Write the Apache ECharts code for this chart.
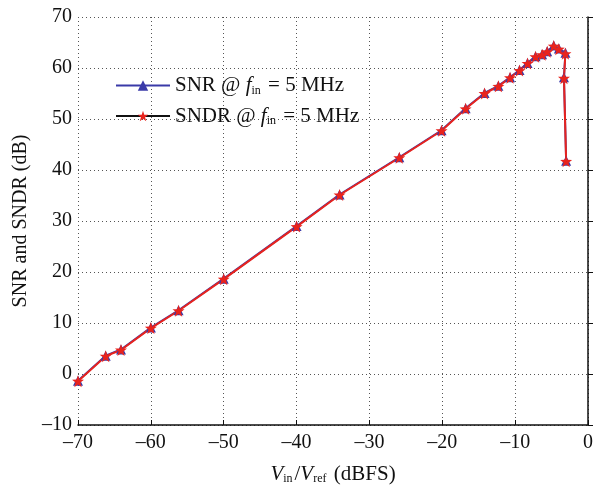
<!DOCTYPE html>
<html>
<head>
<meta charset="utf-8">
<script src="https://cdn.jsdelivr.net/npm/echarts@6/dist/echarts.min.js"></script>
<style>
  html, body { margin: 0; padding: 0; background: #fff; }
  #chart { width: 600px; height: 490px; }
</style>
</head>
<body>
<div id="chart"></div>
<script>
// input level (dBFS)
var vinLevels = [-70, -66.2, -64.1, -60, -56.2, -50, -40, -34.1, -25.9, -20.1, -16.8, -14.2, -12.3, -10.7, -9.4, -8.3, -7.2, -6.3, -5.6, -4.7, -4.0, -3.1, -3.3, -3.0];
var snrVals  = [-1.3, 3.6, 4.8, 9.1, 12.5, 18.7, 29.0, 35.2, 42.5, 47.8, 52.1, 55.1, 56.5, 58.2, 59.6, 61.0, 62.3, 62.7, 63.3, 64.4, 63.8, 63.0, 58.2, 41.8];
var sndrVals = [-1.4, 3.5, 4.7, 9.0, 12.4, 18.6, 28.9, 35.1, 42.4, 47.7, 52.0, 55.0, 56.4, 58.1, 59.5, 60.9, 62.2, 62.6, 63.2, 64.3, 63.7, 62.8, 58.0, 41.7];
var xTicks = [-70, 0, 10];
var yTicks = [-10, 70, 10];

function pairs(ys) {
    var out = [];
    for (var i = 0; i < vinLevels.length; i++) out.push([vinLevels[i], ys[i]]);
    return out;
}
function minus(v) { return String(v).replace('-', '\u2013'); }

var serif = 'Liberation Serif';
var richTxt = {
    a: { fontFamily: serif, fontSize: 21, color: '#111' },
    i: { fontFamily: serif, fontSize: 21, fontStyle: 'italic', color: '#111' },
    s: { fontFamily: serif, fontSize: 12, color: '#111', verticalAlign: 'bottom', padding: [10, 2, 0, 0] }
};
var gridLine = { show: true, lineStyle: { color: '#555', type: [1, 3], width: 1 } };
var star = 'path://M0,-10L2.35,-3.24L9.51,-3.09L3.8,1.24L5.88,8.09L0,4L-5.88,8.09L-3.8,1.24L-9.51,-3.09L-2.35,-3.24Z';

var chart = echarts.init(document.getElementById('chart'));
chart.setOption({
    animation: false,
    backgroundColor: '#fff',
    grid: { left: 78, right: 12, top: 17, bottom: 64 },
    legend: {
        orient: 'vertical',
        left: 110, top: 70,
        itemWidth: 54, itemHeight: 13, itemGap: 9,
        data: [
            { name: 'SNR' },
            { name: 'SNDR', lineStyle: { color: '#111' } }
        ],
        formatter: function (n) {
            return '{a|' + n + ' @ }{i|f}{s|in}{a| = 5 MHz}';
        },
        textStyle: { rich: richTxt }
    },
    xAxis: {
        type: 'value', min: xTicks[0], max: xTicks[1], interval: xTicks[2],
        name: '{i|V}{s|in}{a|/}{i|V}{s|ref}{a| (dBFS)}',
        nameLocation: 'middle', nameGap: 38,
        nameTextStyle: { rich: richTxt },
        axisLine: { onZero: false, lineStyle: { color: '#111', width: 1.5 } },
        axisTick: { inside: true, length: 5, lineStyle: { color: '#111' } },
        axisLabel: { fontFamily: serif, fontSize: 20, color: '#111', margin: 8, formatter: minus },
        splitLine: gridLine
    },
    yAxis: {
        type: 'value', min: yTicks[0], max: yTicks[1], interval: yTicks[2],
        name: 'SNR and SNDR (dB)',
        nameLocation: 'middle', nameGap: 44,
        nameTextStyle: { fontFamily: serif, fontSize: 20, color: '#111' },
        axisLine: { lineStyle: { color: '#111', width: 1.5 } },
        axisTick: { inside: true, length: 5, lineStyle: { color: '#111' } },
        axisLabel: { fontFamily: serif, fontSize: 20, color: '#111', margin: 6, formatter: minus },
        splitLine: gridLine
    },
    series: [
        {
            name: 'SNR', type: 'line', data: pairs(snrVals),
            symbol: 'triangle', symbolSize: 10,
            lineStyle: { color: '#3a3aa8', width: 2 },
            itemStyle: { color: '#3a3aa8' }
        },
        {
            name: 'SNDR', type: 'line', data: pairs(sndrVals),
            symbol: star, symbolSize: 12,
            lineStyle: { color: '#e8231d', width: 2 },
            itemStyle: { color: '#e8231d' }
        }
    ]
});
</script>
</body>
</html>
